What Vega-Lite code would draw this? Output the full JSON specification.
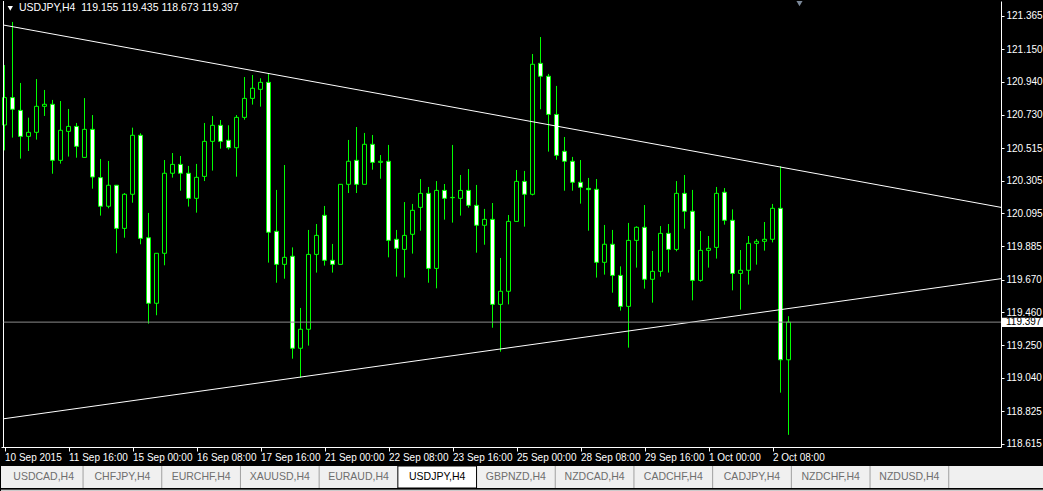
{
 "$schema": "https://vega.github.io/schema/vega-lite/v6.json",
 "background": "#000000",
 "padding": 0,
 "spacing": 0,
 "config": {"font": "Liberation Sans", "view": {"stroke": null}, "scale": {"continuousPadding": 0}},
 "datasets": {
  "candles": [
   {"i":0,"o":120.663,"h":121.048,"l":120.500,"c":120.839},
   {"i":1,"o":120.839,"h":121.325,"l":120.582,"c":120.764},
   {"i":2,"o":120.757,"h":120.933,"l":120.447,"c":120.590},
   {"i":3,"o":120.590,"h":120.710,"l":120.496,"c":120.616},
   {"i":4,"o":120.616,"h":120.958,"l":120.569,"c":120.783},
   {"i":5,"o":120.783,"h":120.888,"l":120.721,"c":120.796},
   {"i":6,"o":120.796,"h":120.824,"l":120.350,"c":120.436},
   {"i":7,"o":120.436,"h":120.817,"l":120.415,"c":120.629},
   {"i":8,"o":120.622,"h":120.766,"l":120.460,"c":120.654},
   {"i":9,"o":120.654,"h":120.676,"l":120.453,"c":120.526},
   {"i":10,"o":120.455,"h":120.836,"l":120.453,"c":120.635},
   {"i":11,"o":120.635,"h":120.727,"l":120.254,"c":120.329},
   {"i":12,"o":120.325,"h":120.445,"l":120.081,"c":120.141},
   {"i":13,"o":120.141,"h":120.432,"l":120.128,"c":120.276},
   {"i":14,"o":120.276,"h":120.276,"l":119.839,"c":119.999},
   {"i":15,"o":119.999,"h":120.226,"l":119.939,"c":120.218},
   {"i":16,"o":120.218,"h":120.646,"l":120.164,"c":120.597},
   {"i":17,"o":120.597,"h":120.610,"l":119.897,"c":119.935},
   {"i":18,"o":119.939,"h":120.098,"l":119.387,"c":119.518},
   {"i":19,"o":119.518,"h":119.839,"l":119.441,"c":119.839},
   {"i":20,"o":119.839,"h":120.438,"l":119.762,"c":120.353},
   {"i":21,"o":120.353,"h":120.483,"l":120.325,"c":120.410},
   {"i":22,"o":120.410,"h":120.464,"l":120.241,"c":120.353},
   {"i":23,"o":120.353,"h":120.400,"l":120.139,"c":120.192},
   {"i":24,"o":120.192,"h":120.413,"l":120.100,"c":120.327},
   {"i":25,"o":120.333,"h":120.676,"l":120.303,"c":120.558},
   {"i":26,"o":120.558,"h":120.721,"l":120.370,"c":120.661},
   {"i":27,"o":120.661,"h":120.695,"l":120.511,"c":120.558},
   {"i":28,"o":120.565,"h":120.661,"l":120.505,"c":120.517},
   {"i":29,"o":120.517,"h":120.727,"l":120.331,"c":120.712},
   {"i":30,"o":120.712,"h":120.971,"l":120.697,"c":120.834},
   {"i":31,"o":120.834,"h":120.984,"l":120.794,"c":120.899},
   {"i":32,"o":120.892,"h":120.963,"l":120.781,"c":120.937},
   {"i":33,"o":120.937,"h":120.997,"l":119.779,"c":119.974},
   {"i":34,"o":119.980,"h":120.246,"l":119.650,"c":119.768},
   {"i":35,"o":119.768,"h":120.406,"l":119.676,"c":119.813},
   {"i":36,"o":119.820,"h":119.877,"l":119.162,"c":119.229},
   {"i":37,"o":119.229,"h":119.488,"l":119.040,"c":119.351},
   {"i":38,"o":119.351,"h":119.989,"l":119.246,"c":119.832},
   {"i":39,"o":119.832,"h":120.027,"l":119.715,"c":119.954},
   {"i":40,"o":120.083,"h":120.143,"l":119.760,"c":119.794},
   {"i":41,"o":119.794,"h":119.899,"l":119.715,"c":119.768},
   {"i":42,"o":119.768,"h":120.284,"l":119.768,"c":120.282},
   {"i":43,"o":120.282,"h":120.567,"l":120.226,"c":120.430},
   {"i":44,"o":120.436,"h":120.650,"l":120.226,"c":120.282},
   {"i":45,"o":120.282,"h":120.612,"l":120.282,"c":120.539},
   {"i":46,"o":120.539,"h":120.599,"l":120.376,"c":120.423},
   {"i":47,"o":120.423,"h":120.470,"l":120.318,"c":120.430},
   {"i":48,"o":120.430,"h":120.535,"l":119.813,"c":119.922},
   {"i":49,"o":119.929,"h":119.989,"l":119.689,"c":119.871},
   {"i":50,"o":119.864,"h":120.168,"l":119.683,"c":119.954},
   {"i":51,"o":119.961,"h":120.156,"l":119.837,"c":120.115},
   {"i":52,"o":120.134,"h":120.316,"l":119.984,"c":120.224},
   {"i":53,"o":120.224,"h":120.265,"l":119.650,"c":119.742},
   {"i":54,"o":119.742,"h":120.303,"l":119.614,"c":120.243},
   {"i":55,"o":120.243,"h":120.284,"l":120.055,"c":120.192},
   {"i":56,"o":120.196,"h":120.535,"l":120.036,"c":120.198},
   {"i":57,"o":120.192,"h":120.342,"l":120.081,"c":120.243},
   {"i":58,"o":120.243,"h":120.380,"l":120.132,"c":120.147},
   {"i":59,"o":120.147,"h":120.278,"l":119.843,"c":120.019},
   {"i":60,"o":120.019,"h":120.124,"l":119.894,"c":120.057},
   {"i":61,"o":120.057,"h":120.162,"l":119.361,"c":119.511},
   {"i":62,"o":119.511,"h":119.809,"l":119.207,"c":119.595},
   {"i":63,"o":119.595,"h":120.085,"l":119.511,"c":120.044},
   {"i":64,"o":120.044,"h":120.374,"l":120.044,"c":120.301},
   {"i":65,"o":120.301,"h":120.368,"l":120.010,"c":120.218},
   {"i":66,"o":120.218,"h":121.119,"l":120.211,"c":121.053},
   {"i":67,"o":121.059,"h":121.228,"l":120.764,"c":120.976},
   {"i":68,"o":120.976,"h":120.991,"l":120.492,"c":120.731},
   {"i":69,"o":120.731,"h":120.914,"l":120.440,"c":120.468},
   {"i":70,"o":120.494,"h":120.586,"l":120.241,"c":120.430},
   {"i":71,"o":120.430,"h":120.458,"l":120.241,"c":120.295},
   {"i":72,"o":120.295,"h":120.438,"l":120.158,"c":120.263},
   {"i":73,"o":120.256,"h":120.323,"l":119.984,"c":120.248},
   {"i":74,"o":120.250,"h":120.316,"l":119.683,"c":119.781},
   {"i":75,"o":119.781,"h":120.021,"l":119.702,"c":119.897},
   {"i":76,"o":119.897,"h":119.989,"l":119.586,"c":119.697},
   {"i":77,"o":119.697,"h":119.755,"l":119.471,"c":119.498},
   {"i":78,"o":119.498,"h":120.034,"l":119.233,"c":119.922},
   {"i":79,"o":119.922,"h":120.012,"l":119.747,"c":120.006},
   {"i":80,"o":120.006,"h":120.149,"l":119.612,"c":119.672},
   {"i":81,"o":119.672,"h":119.854,"l":119.522,"c":119.723},
   {"i":82,"o":119.723,"h":120.014,"l":119.689,"c":119.967},
   {"i":83,"o":119.967,"h":120.027,"l":119.715,"c":119.864},
   {"i":84,"o":119.864,"h":120.303,"l":119.852,"c":120.224},
   {"i":85,"o":120.224,"h":120.342,"l":119.997,"c":120.109},
   {"i":86,"o":120.109,"h":120.246,"l":119.537,"c":119.665},
   {"i":87,"o":119.665,"h":119.982,"l":119.657,"c":119.858},
   {"i":88,"o":119.858,"h":119.950,"l":119.747,"c":119.871},
   {"i":89,"o":119.877,"h":120.265,"l":119.805,"c":120.224},
   {"i":90,"o":120.231,"h":120.258,"l":120.023,"c":120.051},
   {"i":91,"o":120.051,"h":120.121,"l":119.601,"c":119.710},
   {"i":92,"o":119.710,"h":119.860,"l":119.477,"c":119.730},
   {"i":93,"o":119.730,"h":119.950,"l":119.638,"c":119.903},
   {"i":94,"o":119.903,"h":119.931,"l":119.766,"c":119.916},
   {"i":95,"o":119.916,"h":120.040,"l":119.856,"c":119.929},
   {"i":96,"o":119.929,"h":120.156,"l":119.909,"c":120.128},
   {"i":97,"o":120.128,"h":120.398,"l":118.944,"c":119.155},
   {"i":98,"o":119.155,"h":119.435,"l":118.673,"c":119.397}
  ],
  "frame": [{"i":-0.125}],
  "trend": [
   {"i1":-0.125,"p1":121.305,"i2":124.5625,"p2":120.134},
   {"i1":-0.125,"p1":118.776,"i2":124.5625,"p2":119.676}
  ],
  "bid": [{"i1":-0.125,"i2":124.5625,"p":119.397}],
  "pricebox": [{"i1":124.5625,"i2":129.9,"p1":119.366,"p2":119.425,"ti":125.19,"tp":119.396,"label":"119.397"}],
  "header": [{"ti":0.725,"i":1.81,"p":121.412,"label":"USDJPY,H4\u00a0\u00a0119.155 119.435 118.673 119.397"}],
  "marker": [{"i":99.375,"p":121.452}],
  "tabs": [
   {"tab":"USDCAD,H4"},{"tab":"CHFJPY,H4"},{"tab":"EURCHF,H4"},{"tab":"XAUUSD,H4"},
   {"tab":"EURAUD,H4"},{"tab":"USDJPY,H4"},{"tab":"GBPNZD,H4"},{"tab":"NZDCAD,H4"},
   {"tab":"CADCHF,H4"},{"tab":"CADJPY,H4"},{"tab":"NZDCHF,H4"},{"tab":"NZDUSD,H4"}
  ]
 },
 "vconcat": [
  {
   "width": 1000,
   "height": 446,
   "resolve": {"axis": {"x": "independent", "y": "independent"}},
   "layer": [
    {
     "data": {"name": "candles"},
     "mark": {"type": "rule", "color": "#00ff00", "strokeWidth": 1, "clip": true},
     "encoding": {
      "x": {"field": "i", "type": "quantitative", "scale": {"domain": [-0.4375, 124.5625], "nice": false, "zero": false, "padding": 0},
       "axis": {"orient": "bottom", "values": [0,8,16,24,32,40,48,56,64,72,80,88,96],
        "labelExpr": "['10 Sep 2015','11 Sep 16:00','15 Sep 00:00','16 Sep 08:00','17 Sep 16:00','21 Sep 00:00','22 Sep 08:00','23 Sep 16:00','25 Sep 00:00','28 Sep 08:00','29 Sep 16:00','1 Oct 00:00','2 Oct 08:00'][round(datum.value/8)]",
        "grid": false, "domainColor": "#ffffff", "domainWidth": 1, "tickColor": "#ffffff", "tickWidth": 1, "tickSize": 4,
        "labelColor": "#ffffff", "labelFontSize": 10, "labelAlign": "left", "labelBaseline": "top", "labelPadding": 1,
        "labelFlush": false, "labelOverlap": false, "labelBound": false, "minExtent": 18, "title": null}},
      "y": {"field": "l", "type": "quantitative", "scale": {"domain": [118.5949, 121.4594], "nice": false, "zero": false, "padding": 0},
       "axis": {"orient": "right", "values": [121.365,121.15,120.94,120.73,120.515,120.305,120.095,119.885,119.67,119.46,119.25,119.04,118.825,118.615],
        "format": ".3f", "grid": false, "domainColor": "#ffffff", "domainWidth": 1, "tickColor": "#ffffff", "tickWidth": 1, "tickSize": 3,
        "labelColor": "#ffffff", "labelFontSize": 10, "labelPadding": 2, "labelFlush": false, "labelOverlap": false, "labelBaseline": "middle", "minExtent": 0, "title": null}},
      "y2": {"field": "h"}
     }
    },
    {
     "data": {"name": "candles"},
     "mark": {"type": "bar", "size": 4, "stroke": "#00ff00", "strokeWidth": 1, "clip": true},
     "encoding": {
      "x": {"field": "i", "type": "quantitative", "scale": {"domain": [-0.4375, 124.5625], "nice": false, "zero": false, "padding": 0}, "axis": null},
      "y": {"field": "o", "type": "quantitative", "scale": {"domain": [118.5949, 121.4594], "nice": false, "zero": false, "padding": 0}, "axis": null},
      "y2": {"field": "c"},
      "fill": {"condition": {"test": "datum.c < datum.o", "value": "#ffffff"}, "value": "#000000"}
     }
    },
    {
     "data": {"name": "frame"},
     "mark": {"type": "rule", "color": "#ffffff", "strokeWidth": 1},
     "encoding": {
      "x": {"field": "i", "type": "quantitative", "scale": {"domain": [-0.4375, 124.5625], "nice": false, "zero": false, "padding": 0}, "axis": null}
     }
    },
    {
     "data": {"name": "trend"},
     "mark": {"type": "rule", "color": "#ffffff", "strokeWidth": 1, "clip": true},
     "encoding": {
      "x": {"field": "i1", "type": "quantitative", "scale": {"domain": [-0.4375, 124.5625], "nice": false, "zero": false, "padding": 0}, "axis": null},
      "x2": {"field": "i2"},
      "y": {"field": "p1", "type": "quantitative", "scale": {"domain": [118.5949, 121.4594], "nice": false, "zero": false, "padding": 0}, "axis": null},
      "y2": {"field": "p2"}
     }
    },
    {
     "data": {"name": "bid"},
     "mark": {"type": "rule", "color": "#8c8c8c", "strokeWidth": 1},
     "encoding": {
      "x": {"field": "i1", "type": "quantitative", "scale": {"domain": [-0.4375, 124.5625], "nice": false, "zero": false, "padding": 0}, "axis": null},
      "x2": {"field": "i2"},
      "y": {"field": "p", "type": "quantitative", "scale": {"domain": [118.5949, 121.4594], "nice": false, "zero": false, "padding": 0}, "axis": null}
     }
    },
    {
     "data": {"name": "pricebox"},
     "mark": {"type": "rect", "fill": "#ffffff"},
     "encoding": {
      "x": {"field": "i1", "type": "quantitative", "scale": {"domain": [-0.4375, 124.5625], "nice": false, "zero": false, "padding": 0}, "axis": null},
      "x2": {"field": "i2"},
      "y": {"field": "p1", "type": "quantitative", "scale": {"domain": [118.5949, 121.4594], "nice": false, "zero": false, "padding": 0}, "axis": null},
      "y2": {"field": "p2"}
     }
    },
    {
     "data": {"name": "pricebox"},
     "mark": {"type": "text", "color": "#000000", "align": "left", "baseline": "middle", "fontSize": 10},
     "encoding": {
      "x": {"field": "ti", "type": "quantitative", "scale": {"domain": [-0.4375, 124.5625], "nice": false, "zero": false, "padding": 0}, "axis": null},
      "y": {"field": "tp", "type": "quantitative", "scale": {"domain": [118.5949, 121.4594], "nice": false, "zero": false, "padding": 0}, "axis": null},
      "text": {"field": "label"}
     }
    },
    {
     "data": {"name": "header"},
     "mark": {"type": "point", "shape": "triangle-down", "filled": true, "color": "#ffffff", "size": 28, "opacity": 1},
     "encoding": {
      "x": {"field": "ti", "type": "quantitative", "scale": {"domain": [-0.4375, 124.5625], "nice": false, "zero": false, "padding": 0}, "axis": null},
      "y": {"field": "p", "type": "quantitative", "scale": {"domain": [118.5949, 121.4594], "nice": false, "zero": false, "padding": 0}, "axis": null}
     }
    },
    {
     "data": {"name": "header"},
     "mark": {"type": "text", "color": "#ffffff", "align": "left", "baseline": "middle", "fontSize": 10.5},
     "encoding": {
      "x": {"field": "i", "type": "quantitative", "scale": {"domain": [-0.4375, 124.5625], "nice": false, "zero": false, "padding": 0}, "axis": null},
      "y": {"field": "p", "type": "quantitative", "scale": {"domain": [118.5949, 121.4594], "nice": false, "zero": false, "padding": 0}, "axis": null},
      "text": {"field": "label"}
     }
    },
    {
     "data": {"name": "marker"},
     "mark": {"type": "point", "shape": "triangle-down", "filled": true, "color": "#7b8898", "size": 90, "opacity": 1, "clip": true},
     "encoding": {
      "x": {"field": "i", "type": "quantitative", "scale": {"domain": [-0.4375, 124.5625], "nice": false, "zero": false, "padding": 0}, "axis": null},
      "y": {"field": "p", "type": "quantitative", "scale": {"domain": [118.5949, 121.4594], "nice": false, "zero": false, "padding": 0}, "axis": null}
     }
    }
   ]
  },
  {
   "width": 1043,
   "height": 22,
   "view": {"fill": "#f0f0f0", "stroke": null},
   "data": {"name": "tabs"},
   "layer": [
    {
     "transform": [{"filter": "datum.tab === 'USDJPY,H4'"}],
     "mark": {"type": "bar", "fill": "#ffffff", "stroke": "#000000", "strokeWidth": 1},
     "encoding": {
      "x": {"field": "tab", "type": "nominal", "sort": null,
       "scale": {"type": "band", "domain": ["USDCAD,H4","CHFJPY,H4","EURCHF,H4","XAUUSD,H4","EURAUD,H4","USDJPY,H4","GBPNZD,H4","NZDCAD,H4","CADCHF,H4","CADJPY,H4","NZDCHF,H4","NZDUSD,H4"], "paddingInner": 0, "paddingOuter": 0.6265, "align": 0.034},
       "axis": null}
     }
    },
    {
     "transform": [{"filter": "datum.tab !== 'EURAUD,H4' && datum.tab !== 'USDJPY,H4'"}],
     "mark": {"type": "rule", "color": "#a0a0a0", "strokeWidth": 1},
     "encoding": {
      "x": {"field": "tab", "type": "nominal", "sort": null, "bandPosition": 1,
       "scale": {"type": "band", "domain": ["USDCAD,H4","CHFJPY,H4","EURCHF,H4","XAUUSD,H4","EURAUD,H4","USDJPY,H4","GBPNZD,H4","NZDCAD,H4","CADCHF,H4","CADJPY,H4","NZDCHF,H4","NZDUSD,H4"], "paddingInner": 0, "paddingOuter": 0.6265, "align": 0.034},
       "axis": null}
     }
    },
    {
     "mark": {"type": "text", "fontSize": 10.5, "baseline": "middle", "align": "center"},
     "encoding": {
      "x": {"field": "tab", "type": "nominal", "sort": null,
       "scale": {"type": "band", "domain": ["USDCAD,H4","CHFJPY,H4","EURCHF,H4","XAUUSD,H4","EURAUD,H4","USDJPY,H4","GBPNZD,H4","NZDCAD,H4","CADCHF,H4","CADJPY,H4","NZDCHF,H4","NZDUSD,H4"], "paddingInner": 0, "paddingOuter": 0.6265, "align": 0.034},
       "axis": null},
      "text": {"field": "tab"},
      "color": {"condition": {"test": "datum.tab === 'USDJPY,H4'", "value": "#000000"}, "value": "#6e6e6e"}
     }
    }
   ]
  },
  {
   "width": 1043,
   "height": 5,
   "view": {"fill": "#f6f6f6", "stroke": null},
   "data": {"values": [{"k": 1}]},
   "mark": {"type": "rule", "color": "#a0a0a0"},
   "encoding": {"y": {"datum": 1, "type": "quantitative", "scale": {"domain": [0, 1]}, "axis": null}}
  }
 ]
}
